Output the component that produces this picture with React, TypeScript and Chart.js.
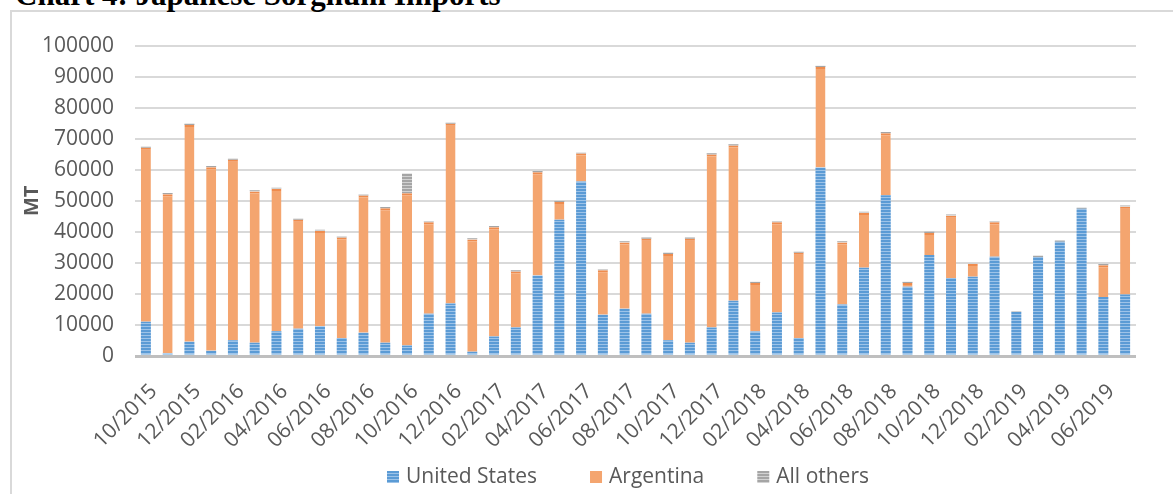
import React, { useEffect, useRef } from "react";
import { Chart, registerables } from "chart.js";

Chart.register(...registerables);

const months = [
  "10/2015", "11/2015", "12/2015", "01/2016", "02/2016", "03/2016", "04/2016", "05/2016",
  "06/2016", "07/2016", "08/2016", "09/2016", "10/2016", "11/2016", "12/2016", "01/2017",
  "02/2017", "03/2017", "04/2017", "05/2017", "06/2017", "07/2017", "08/2017", "09/2017",
  "10/2017", "11/2017", "12/2017", "01/2018", "02/2018", "03/2018", "04/2018", "05/2018",
  "06/2018", "07/2018", "08/2018", "09/2018", "10/2018", "11/2018", "12/2018", "01/2019",
  "02/2019", "03/2019", "04/2019", "05/2019", "06/2019", "07/2019",
];

const unitedStates = [
  11000, 900, 4600, 1700, 5100, 4300, 8000, 8800, 9600, 5800,
  7500, 4300, 3400, 13600, 16900, 1400, 6300, 9200, 25900, 43900,
  56200, 13300, 15200, 13600, 5100, 4300, 9200, 17800, 7900, 14000,
  5800, 60700, 16600, 28400, 51800, 22300, 32500, 25100, 25500, 32000,
  14200, 31900, 36800, 47400, 19000, 19800,
];

const argentina = [
  56100, 51200, 69800, 59100, 58100, 48700, 45800, 35100, 30700, 32400,
  44200, 43300, 49000, 29500, 57900, 36100, 35200, 18000, 33300, 5700,
  9000, 14300, 21400, 24200, 27800, 33500, 55700, 50000, 15600, 29100,
  27500, 32400, 20000, 17700, 20000, 1200, 7100, 20100, 4100, 11100,
  0, 0, 0, 0, 10200, 28300,
];

const allOthers = [
  400, 400, 400, 400, 400, 400, 400, 400, 400, 400,
  400, 400, 6400, 400, 400, 400, 400, 400, 400, 400,
  400, 400, 400, 400, 400, 400, 400, 400, 400, 400,
  400, 400, 400, 400, 400, 400, 400, 400, 400, 400,
  300, 400, 400, 400, 400, 400,
];

const seriesNames = ["United States", "Argentina", "All others"];
const yMin = 0;
const yMax = 100000;
const yStep = 10000;

const FONT = "'Open Sans', 'DejaVu Sans', sans-serif";
const TEXT = "#595959";

function stripes(base: string, light: string): CanvasPattern | string {
  const c = document.createElement("canvas");
  c.width = 4;
  c.height = 3;
  const g = c.getContext("2d");
  if (!g) return base;
  g.fillStyle = base;
  g.fillRect(0, 0, 4, 3);
  g.fillStyle = light;
  g.fillRect(0, 2, 4, 1);
  const p = g.createPattern(c, "repeat");
  return p || base;
}

const bottomLegend = {
  id: "bottomLegend",
  afterDraw(chart: any) {
    const ctx: CanvasRenderingContext2D = chart.ctx;
    ctx.save();
    ctx.font = `21px ${FONT}`;
    const items = chart.data.datasets.map((d: any) => ({ text: d.label, color: d.backgroundColor }));
    const box = 12;
    const gap = 7;
    const spacing = 53;
    const widths = items.map((it: any) => box + gap + ctx.measureText(it.text).width);
    const total = widths.reduce((a: number, b: number) => a + b, 0) + spacing * (items.length - 1);
    let x = chart.width / 2 - total / 2;
    const y = 465;
    items.forEach((it: any, i: number) => {
      ctx.fillStyle = it.color;
      ctx.fillRect(x, y - 6, box, box);
      ctx.fillStyle = TEXT;
      ctx.textBaseline = "middle";
      ctx.textAlign = "left";
      ctx.fillText(it.text, x + box + gap, y);
      x += widths[i] + spacing;
    });
    ctx.restore();
  },
};

export default function App() {
  const ref = useRef<HTMLCanvasElement | null>(null);

  useEffect(() => {
    if (!ref.current) return;
    const blue = stripes("#5B9BD5", "#9DC3E8");
    const gray = stripes("#A5A5A5", "#D2D2D2");
    const chart = new Chart(ref.current, {
      type: "bar",
      data: {
        labels: months,
        datasets: [
          {
            label: seriesNames[0],
            data: unitedStates,
            backgroundColor: blue as any,
            borderWidth: 0,
            barPercentage: 0.46,
            categoryPercentage: 1,
          },
          {
            label: seriesNames[1],
            data: argentina,
            backgroundColor: "#F4A56F",
            borderColor: "#EF8C4E",
            borderWidth: { top: 2, left: 0, right: 0, bottom: 0 },
            borderSkipped: "start",
            barPercentage: 0.46,
            categoryPercentage: 1,
          },
          {
            label: seriesNames[2],
            data: allOthers,
            backgroundColor: gray as any,
            borderWidth: 0,
            barPercentage: 0.46,
            categoryPercentage: 1,
          },
        ],
      },
      plugins: [bottomLegend],
      options: {
        animation: false,
        responsive: false,
        layout: { padding: { top: 30, left: 0, right: 0, bottom: 0 } },
        plugins: {
          tooltip: { enabled: false },
          legend: { display: false },
        },
        scales: {
          x: {
            stacked: true,
            grid: { display: false },
            border: { display: false },
            ticks: {
              autoSkip: false,
              minRotation: 45,
              maxRotation: 45,
              padding: 15,
              labelOffset: 8,
              color: TEXT,
              font: { family: FONT, size: 21 },
              callback: (_v: any, i: number) => (i % 2 === 0 ? months[i] : ""),
            },
            afterFit: (s: any) => {
              s.height = 142;
            },
          },
          y: {
            stacked: true,
            min: yMin,
            max: yMax,
            ticks: {
              stepSize: yStep,
              padding: 21,
              color: TEXT,
              font: { family: FONT, size: 21 },
              callback: (v: any) => String(v),
            },
            grid: {
              drawTicks: false,
              color: (ctx: any) => (ctx.tick && ctx.tick.value === 0 ? "#BFBFBF" : "#D9D9D9"),
              lineWidth: (ctx: any) => (ctx.tick && ctx.tick.value === 0 ? 3 : 2),
            },
            border: { display: false },
            title: {
              display: true,
              text: "MT",
              color: TEXT,
              font: { family: FONT, size: 20, weight: "bold" },
              padding: { top: 8, bottom: 0 },
            },
            afterFit: (s: any) => {
              s.width = 123;
            },
          },
          yRight: {
            type: "linear",
            position: "right",
            display: true,
            grid: { display: false },
            border: { display: false },
            ticks: { display: false },
            afterFit: (s: any) => {
              s.width = 108;
            },
          },
        },
      } as any,
    });
    return () => chart.destroy();
  }, []);

  return (
    <div
      style={{
        position: "fixed",
        left: 0,
        top: 0,
        width: 1173,
        height: 494,
        overflow: "hidden",
        background: "#ffffff",
      }}
    >
      <div
        style={{
          position: "absolute",
          left: 10,
          top: 10,
          width: 1400,
          height: 700,
          borderLeft: "2px solid #D9D9D9",
          borderTop: "2px solid #D9D9D9",
        }}
      />
      <div
        style={{
          position: "absolute",
          left: 15,
          top: -20,
          fontFamily: "'Liberation Serif', 'Times New Roman', serif",
          fontWeight: "bold",
          fontSize: 31,
          lineHeight: "30px",
          color: "#000",
          whiteSpace: "nowrap",
        }}
      >
        Chart 4: Japanese Sorghum Imports
      </div>
      <canvas
        ref={ref}
        width={1232}
        height={486}
        style={{ position: "absolute", left: 12, top: 12, width: 1232, height: 486 }}
      />
    </div>
  );
}
